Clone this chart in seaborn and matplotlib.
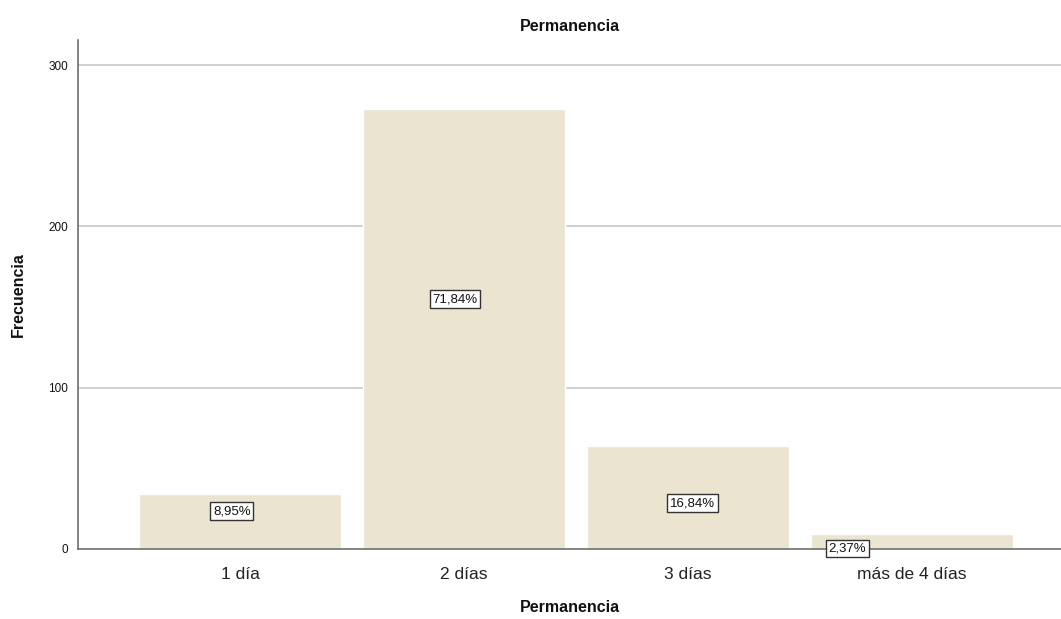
import matplotlib
matplotlib.use("Agg")
import matplotlib.pyplot as plt
import seaborn as sns
import pandas as pd

categories = ["1 día", "2 días", "3 días", "más de 4 días"]
frequencies = [34, 273, 64, 9]
percent_labels = ["8,95%", "71,84%", "16,84%", "2,37%"]
yticks = [0, 100, 200, 300]

df = pd.DataFrame({"Permanencia": categories, "Frecuencia": frequencies})

sns.set_theme(style="white")
plt.rcParams["font.family"] = ["Liberation Sans", "DejaVu Sans"]

fig = plt.figure(figsize=(10.61, 6.19), dpi=100)
ax = fig.add_axes([0.0735, 0.1131, 0.9265, 0.8219])

ax.set_axisbelow(True)
for t in yticks[1:]:
    ax.axhline(t, color="#c8c8c8", lw=1.2, zorder=0)

sns.barplot(data=df, x="Permanencia", y="Frecuencia", color="#ebe4d0",
            saturation=1, width=0.9, ax=ax, zorder=2)

# percentage boxes, positioned inside / near each bar
label_pos = [(-0.036, 23.5), (-0.04, 155), (0.02, 28.5), (-0.29, 0.5)]
for i, (txt, (dx, y)) in enumerate(zip(percent_labels, label_pos)):
    ax.text(i + dx, y, txt, ha="center", va="center", fontsize=9.5,
            color="#111111", zorder=5,
            bbox=dict(boxstyle="square,pad=0.2", fc="white",
                      ec="#333333", lw=1.0))

ax.set_xlim(-0.723, 3.665)
ax.set_ylim(0, 315.5)
ax.set_yticks(yticks)
ax.set_yticklabels([str(t) for t in yticks], fontsize=8.5, color="#111111")
ax.tick_params(axis="x", labelsize=12.5, colors="#222222", length=0, pad=13)
ax.tick_params(axis="y", length=0, pad=7)

for side in ["top", "right"]:
    ax.spines[side].set_visible(False)
for side in ["left", "bottom"]:
    ax.spines[side].set_color("#6e6e6e")
    ax.spines[side].set_linewidth(1.2)

ax.set_xlabel("Permanencia", fontsize=11.5, fontweight="bold", labelpad=13,
              color="#111111")
ax.set_ylabel("Frecuencia", fontsize=11.5, fontweight="bold", labelpad=16,
              color="#111111")
ax.set_title("Permanencia", fontsize=11.5, fontweight="bold", pad=7,
             color="#111111")

fig.savefig("out.png", dpi=100, facecolor="white")
